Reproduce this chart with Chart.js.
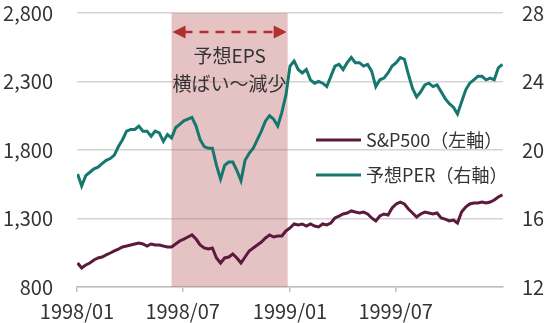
<!DOCTYPE html>
<html><head><meta charset="utf-8">
<script src="https://cdn.jsdelivr.net/npm/chart.js@4.4.0/dist/chart.umd.min.js"></script>
<style>html,body{margin:0;padding:0;background:#fff;}#wrap{width:550px;height:323px;}</style>
</head><body><div id="wrap"><canvas id="c" width="550" height="323"></canvas></div>
<script>
// ---- data (weekly, Fridays from 1998-01-02) ----
const startDate = '1998-01-02';
const weekCount = 105;
const sp500 = [975,939,961,975,997,1012,1019,1034,1048,1063,
1077,1092,1099,1107,1114,1121,1114,1099,1114,1107,
1107,1099,1092,1092,1114,1136,1150,1165,1180,1150,
1107,1085,1077,1085,1012,975,1012,1019,1041,1012,
975,1019,1063,1085,1107,1128,1158,1180,1165,1172,
1172,1209,1231,1260,1253,1260,1245,1260,1245,1238,
1260,1253,1267,1304,1318,1333,1340,1355,1347,1340,
1347,1333,1304,1282,1318,1333,1326,1377,1406,1420,
1406,1369,1340,1311,1333,1347,1340,1333,1340,1304,
1296,1282,1289,1267,1347,1384,1406,1413,1413,1420,
1413,1420,1435,1457,1472];
const forwardPER = [18.6,17.9,18.5,18.7,18.9,19.0,19.2,19.4,19.5,19.7,
20.2,20.6,21.1,21.2,21.2,21.4,21.1,21.1,20.8,21.1,
21.0,20.5,20.9,20.7,21.3,21.5,21.7,21.8,21.9,21.4,
20.6,20.2,20.1,20.1,19.1,18.3,19.1,19.3,19.3,18.8,
18.2,19.4,19.8,20.1,20.6,21.1,21.7,22.0,21.8,21.4,
22.2,23.2,24.9,25.2,24.7,24.5,24.7,24.1,23.9,24.0,
23.9,23.7,24.3,24.9,25.0,24.7,25.1,25.4,25.1,25.1,
24.9,25.0,24.6,23.7,24.1,24.2,24.5,24.9,25.1,25.4,
25.3,24.4,23.6,23.1,23.4,23.8,23.9,23.7,23.8,23.4,
23.0,22.7,22.5,22.1,22.8,23.5,23.9,24.1,24.3,24.3,
24.1,24.2,24.1,24.8,25.0];
const xTickDates = ['1998-01-01','1998-07-01','1999-01-01','1999-07-01'];
const xTickLabels = ['1998/01','1998/07','1999/01','1999/07'];
const xRange = ['1998-01-01','2000-01-01'];
const leftRange = [800, 2800], leftStep = 500;
const rightRange = [12, 28], rightStep = 4;
const seriesNames = ['S&P500（左軸）', '予想PER（右軸）'];
const shadePeriod = ['1998-06-12', '1998-12-28'];
const noteLines = ['予想EPS', '横ばい～減少'];

// ---- helpers ----
const BASE = Date.UTC(1998, 0, 1);
function dayNum(s){ const [y,m,d] = s.split('-').map(Number); return (Date.UTC(y,m-1,d) - BASE) / 86400000; }
const weekDays = Array.from({length: weekCount}, (_, i) => dayNum(startDate) + 7*i);

const C_SP = '#5c1a3c', C_PER = '#16776f', C_TXT = '#333333';
const FONT = '"Noto Sans CJK JP", "Noto Sans", sans-serif';

const decor = {
  id: 'decor',
  beforeDatasetsDraw(chart){
    const {ctx, chartArea: a, scales: {x}} = chart;
    const x0 = x.getPixelForValue(dayNum(shadePeriod[0]));
    const x1 = x.getPixelForValue(dayNum(shadePeriod[1]));
    ctx.save();
    ctx.fillStyle = 'rgba(190,105,110,0.4)';
    ctx.fillRect(x0, a.top, x1 - x0, a.bottom - a.top);
    ctx.restore();
  },
  afterDatasetsDraw(chart){
    const {ctx, chartArea: a, scales: {x}} = chart;
    const x0 = x.getPixelForValue(dayNum(shadePeriod[0]));
    const x1 = x.getPixelForValue(dayNum(shadePeriod[1]));
    const ay = a.top + 19;
    ctx.save();
    ctx.strokeStyle = '#b0302c'; ctx.fillStyle = '#b0302c';
    ctx.lineWidth = 2.5; ctx.setLineDash([9, 7]);
    ctx.beginPath(); ctx.moveTo(x0 + 12, ay); ctx.lineTo(x1 - 12, ay); ctx.stroke();
    ctx.setLineDash([]);
    ctx.beginPath(); ctx.moveTo(x0 + 1, ay); ctx.lineTo(x0 + 14, ay - 6.5); ctx.lineTo(x0 + 14, ay + 6.5); ctx.closePath(); ctx.fill();
    ctx.beginPath(); ctx.moveTo(x1 - 1, ay); ctx.lineTo(x1 - 14, ay - 6.5); ctx.lineTo(x1 - 14, ay + 6.5); ctx.closePath(); ctx.fill();
    ctx.fillStyle = C_TXT; ctx.textAlign = 'center'; ctx.textBaseline = 'middle';
    ctx.font = '19px ' + FONT;
    const cx = (x0 + x1) / 2;
    ctx.fillText(noteLines[0], cx, a.top + 43);
    ctx.fillText(noteLines[1], cx, a.top + 71);
    ctx.font = '18px ' + FONT;
    const cols = [C_SP, C_PER];
    const ly = [a.top + 127, a.top + 162];
    ctx.textAlign = 'left';
    for (let i = 0; i < 2; i++){
      ctx.strokeStyle = cols[i]; ctx.lineWidth = 3;
      ctx.beginPath(); ctx.moveTo(316, ly[i]); ctx.lineTo(361, ly[i]); ctx.stroke();
      ctx.fillStyle = C_TXT;
      ctx.fillText(seriesNames[i], 366, ly[i]);
    }
    ctx.restore();
  }
};

const tickFont = {family: FONT, size: 20};
new Chart(document.getElementById('c'), {
  type: 'line',
  data: {
    datasets: [
      {label: seriesNames[0], data: sp500.map((v, i) => ({x: weekDays[i], y: v})), yAxisID: 'yL',
       borderColor: C_SP, borderWidth: 3, pointRadius: 0, tension: 0},
      {label: seriesNames[1], data: forwardPER.map((v, i) => ({x: weekDays[i], y: v})), yAxisID: 'yR',
       borderColor: C_PER, borderWidth: 3, pointRadius: 0, tension: 0}
    ]
  },
  options: {
    responsive: false, animation: false, devicePixelRatio: 1,
    layout: {padding: {top: 13, left: 0, right: 0, bottom: 0}},
    plugins: {legend: {display: false}, tooltip: {enabled: false}},
    scales: {
      x: {
        type: 'linear', min: dayNum(xRange[0]), max: dayNum(xRange[1]),
        afterBuildTicks(s){ s.ticks = xTickDates.map(d => ({value: dayNum(d)})); },
        afterFit(s){ s.height = 36; s.paddingLeft = 0; s.paddingRight = 0; },
        grid: {drawOnChartArea: false, drawTicks: true, tickLength: 5, color: '#bfbfbf', lineWidth: 1.5},
        border: {display: true, color: '#bfbfbf', width: 1.5},
        ticks: {autoSkip: false, maxRotation: 0, padding: 7, color: C_TXT, font: tickFont,
                callback: (v, i) => xTickLabels[i]}
      },
      yL: {
        position: 'left', min: leftRange[0], max: leftRange[1],
        afterFit(s){ s.width = 77; s.paddingTop = 0; s.paddingBottom = 0; },
        grid: {color: '#d4d4d4', lineWidth: 1.5, drawTicks: false},
        border: {display: false},
        ticks: {stepSize: leftStep, padding: 24, color: C_TXT, font: tickFont,
                callback: v => v.toLocaleString('en-US')}
      },
      yR: {
        position: 'right', min: rightRange[0], max: rightRange[1],
        afterFit(s){ s.width = 47; s.paddingTop = 0; s.paddingBottom = 0; },
        grid: {drawOnChartArea: false, drawTicks: false},
        border: {display: false},
        ticks: {stepSize: rightStep, padding: 19, color: C_TXT, font: tickFont}
      }
    }
  },
  plugins: [decor]
});
</script>
</body></html>
